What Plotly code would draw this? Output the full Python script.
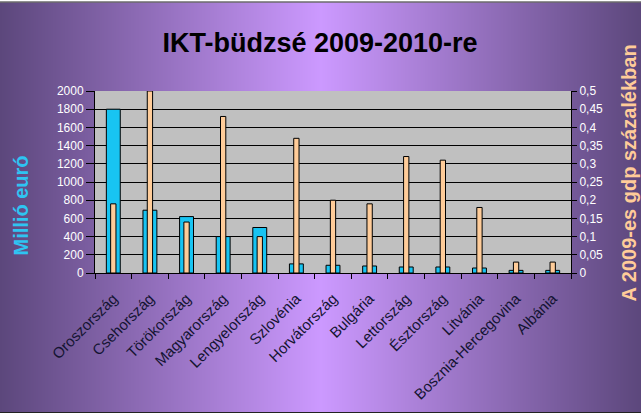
import base64
import struct
import zlib

import plotly.graph_objects as go

# ---------------- data ----------------
countries = ["Oroszország", "Csehország", "Törökország", "Magyarország", "Lengyelország",
             "Szlovénia", "Horvátország", "Bulgária", "Lettország", "Észtország",
             "Litvánia", "Bosznia-Hercegovina", "Albánia"]
budget_meur = [1800, 690, 620, 400, 500, 100, 85, 77, 66, 66, 55, 29, 29]
gdp_pct = [0.19, 0.5, 0.14, 0.43, 0.1, 0.37, 0.2, 0.19, 0.32, 0.31, 0.18, 0.03, 0.03]

left_ticks = [0, 200, 400, 600, 800, 1000, 1200, 1400, 1600, 1800, 2000]
right_ticks = [0, 0.05, 0.1, 0.15, 0.2, 0.25, 0.3, 0.35, 0.4, 0.45, 0.5]
right_ticktext = ["0", "0,05", "0,1", "0,15", "0,2", "0,25", "0,3", "0,35", "0,4", "0,45", "0,5"]

# ---------------- geometry ----------------
W, H = 641, 417
L, R, T, B = 95, 571, 91, 273
PW, PH = R - L, B - T
FONT = "Arial, Liberation Sans, sans-serif"


def px_x(x):
    return (x - L) / PW


def px_y(y):
    return (B - y) / PH


# ---------------- gradient background as a PNG ----------------
edge = (92, 71, 124)
centre = (204, 153, 255)
row = bytearray([0])
for i in range(W):
    t = 1 - abs(i - W / 2) / (W / 2)
    for c in range(3):
        row.append(int(round(edge[c] + (centre[c] - edge[c]) * t)))
raw = bytes(row)


def chunk(tag, data):
    c = struct.pack(">I", len(data)) + tag + data
    return c + struct.pack(">I", zlib.crc32(tag + data) & 0xffffffff)


png = (b"\x89PNG\r\n\x1a\n" + chunk(b"IHDR", struct.pack(">IIBBBBB", W, 1, 8, 2, 0, 0, 0))
       + chunk(b"IDAT", zlib.compress(raw)) + chunk(b"IEND", b""))
grad_uri = "data:image/png;base64," + base64.b64encode(png).decode()

fig = go.Figure()
fig.add_trace(go.Bar(
    x=countries, y=budget_meur, name="Millió euró", width=0.38,
    marker=dict(color="#18C4F2", line=dict(color="black", width=1)),
    yaxis="y",
))
fig.add_trace(go.Bar(
    x=countries, y=gdp_pct, name="GDP %", width=0.145,
    marker=dict(color="#FFCC99", line=dict(color="black", width=1)),
    yaxis="y2",
))

fig.update_layout(
    width=W, height=H,
    margin=dict(l=L, r=W - R, t=T, b=H - B, pad=0, autoexpand=False),
    paper_bgcolor="white",
    plot_bgcolor="rgba(0,0,0,0)",
    barmode="overlay",
    showlegend=False,
    font=dict(family=FONT, size=12, color="white"),
    title=dict(text="IKT-büdzsé 2009-2010-re", x=320 / W, xanchor="center",
               xref="container", yref="container", y=(H - 42.5) / H, yanchor="middle",
               font=dict(family=FONT, size=27, color="black", weight="bold")),
    xaxis=dict(type="category", range=[-0.5, len(countries) - 0.5], automargin=False,
               showline=True, linecolor="black", linewidth=1,
               ticks="outside", tickson="boundaries", ticklen=5, tickcolor="black",
               ticklabelstandoff=10,
               tickangle=-45, tickfont=dict(family=FONT, size=15, color="#141432"),
               showgrid=False, zeroline=False),
    yaxis=dict(range=[0, 2000], tickvals=left_ticks, automargin=False,
               showline=True, linecolor="black", linewidth=1,
               ticks="outside", ticklen=8, tickcolor="black",
               showgrid=True, gridcolor="black", gridwidth=1, zeroline=False,
               tickfont=dict(family=FONT, size=12, color="white")),
    yaxis2=dict(range=[0, 0.5], tickvals=right_ticks, ticktext=right_ticktext, automargin=False,
                overlaying="y", side="right",
                showline=True, linecolor="black", linewidth=1,
                ticks="outside", ticklen=5, tickcolor="black",
                showgrid=False, zeroline=False,
                tickfont=dict(family=FONT, size=12, color="white")),
    images=[dict(source=grad_uri, xref="paper", yref="paper",
                 x=px_x(0), y=px_y(2.5), sizex=W / PW, sizey=(412 - 2.5) / PH,
                 xanchor="left", yanchor="top", sizing="stretch", layer="below")],
    shapes=[
        dict(type="rect", xref="paper", yref="paper", x0=0, x1=1, y0=0, y1=1,
             fillcolor="#C0C0C0", line=dict(width=0), layer="below"),
        dict(type="line", xref="paper", yref="paper", x0=px_x(0), x1=px_x(W),
             y0=px_y(412.5), y1=px_y(412.5), line=dict(color="#222222", width=1), layer="below"),
        dict(type="line", xref="paper", yref="paper", x0=px_x(0), x1=px_x(W),
             y0=px_y(2), y1=px_y(2), line=dict(color="#222222", width=1), layer="below"),
    ],
    annotations=[
        dict(text="Millió euró", xref="paper", yref="paper", x=px_x(20.5), y=px_y(258),
             xanchor="center", yanchor="bottom", textangle=-90, showarrow=False,
             font=dict(family=FONT, size=20, color="#2EC4F2", weight="bold")),
        dict(text="A 2009-es gdp százalékban", xref="paper", yref="paper", x=px_x(628), y=px_y(304),
             xanchor="center", yanchor="bottom", textangle=-90, showarrow=False,
             font=dict(family=FONT, size=20, color="#FFCC99", weight="bold")),
    ],
)

fig.write_html(
    "out.html",
    config={"displayModeBar": False},
    post_script="document.body.style.margin='0';document.body.style.overflow='hidden';",
)
